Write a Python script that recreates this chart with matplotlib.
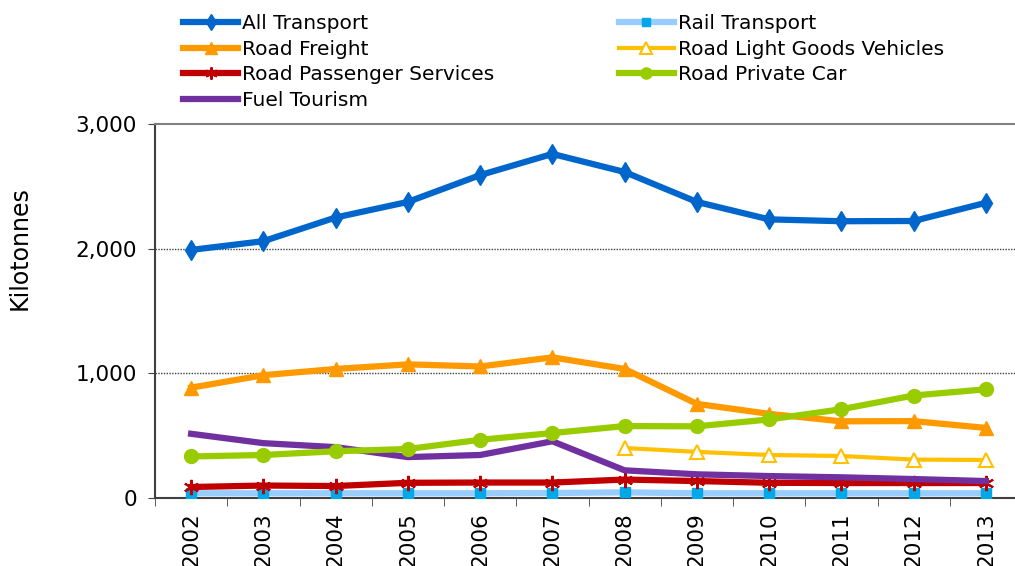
import matplotlib
matplotlib.use("Agg")
import matplotlib.pyplot as plt
from matplotlib.ticker import FuncFormatter, FixedLocator

years = ["2002", "2003", "2004", "2005", "2006", "2007", "2008", "2009", "2010", "2011", "2012", "2013"]
all_transport = [1990, 2060, 2250, 2375, 2590, 2760, 2615, 2375, 2235, 2220, 2222, 2368]
rail_transport = [38, 38, 38, 38, 38, 40, 45, 38, 38, 38, 38, 38]
road_freight = [885, 985, 1035, 1072, 1055, 1128, 1035, 755, 675, 615, 617, 562]
road_lgv = [None, None, None, None, None, None, 401, 370, 345, 337, 308, 305]
road_passenger = [88, 100, 96, 122, 124, 124, 148, 136, 122, 120, 120, 120]
road_private_car = [333, 345, 375, 393, 467, 521, 577, 575, 630, 712, 822, 872]
fuel_tourism = [515, 440, 408, 328, 345, 455, 222, 190, 176, 166, 152, 136]

plt.rcParams['font.family'] = ['DejaVu Sans']
fig = plt.figure(figsize=(10.15, 5.66), dpi=100)
ax = fig.add_axes([155/1015, 1 - 498/566, 867/1015, 374/566])

x = list(range(len(years)))
lw = 4.5
h_all, = ax.plot(x, all_transport, color="#0066cc", lw=lw, marker="d", ms=10, label="All Transport", zorder=5)
h_fr, = ax.plot(x, road_freight, color="#ff9900", lw=lw, marker="^", ms=10, label="Road Freight", zorder=4)
h_ps, = ax.plot(x, road_passenger, color="#c00000", lw=lw, marker=(6, 2, 0), ms=11, mew=1.5,
                mec="#c00000", label="Road Passenger Services", zorder=4)
h_ft, = ax.plot(x, fuel_tourism, color="#7030a0", lw=lw, label="Fuel Tourism", zorder=4)
xl = [i for i, v in zip(x, road_lgv) if v is not None]
yl = [v for v in road_lgv if v is not None]
h_rail, = ax.plot(x, rail_transport, color="#99ccff", lw=lw, marker="s", ms=7, mfc="#00a8e8",
                  mec="#00a8e8", label="Rail Transport", zorder=3)
h_lgv, = ax.plot(xl, yl, color="#ffc000", lw=3, marker="^", ms=10, mfc="white", mec="#ffc000",
                 mew=1.5, label="Road Light Goods Vehicles", zorder=4)
h_car, = ax.plot(x, road_private_car, color="#99cc00", lw=lw, marker="o", ms=10, label="Road Private Car", zorder=4)

ax.set_xlim(-0.5, len(years) - 0.5)
ax.set_ylim(0, 3000)
ax.set_yticks([0, 1000, 2000, 3000])
ax.yaxis.set_major_formatter(FuncFormatter(lambda v, p: f"{int(v):,}"))
ax.set_xticks(x)
ax.set_xticklabels(years, rotation=90, fontsize=15.5)
ax.tick_params(axis="x", which="major", length=0, pad=10)
ax.xaxis.set_minor_locator(FixedLocator([i - 0.5 for i in range(len(years) + 1)]))
ax.tick_params(axis="x", which="minor", length=6, color="#404040", direction="out")
ax.tick_params(axis="y", labelsize=15.5, length=5, color="#404040", direction="out", pad=8)
for v in [1000, 2000]:
    ax.axhline(v, color="#404040", lw=1, ls=(0, (1, 1)), zorder=1)
ax.spines["top"].set_color("#808080")
ax.spines["top"].set_linewidth(1.5)
ax.spines["right"].set_visible(False)
ax.spines["left"].set_color("#404040")
ax.spines["left"].set_linewidth(1.5)
ax.spines["bottom"].set_color("#404040")
ax.spines["bottom"].set_linewidth(1.5)
ax.set_ylabel("Kilotonnes", fontsize=17)
ax.yaxis.set_label_coords((32 - 155) / 867, (498 - 248) / 374)

handles = [h_all, h_fr, h_ps, h_ft, h_rail, h_lgv, h_car]
fig.legend(handles=handles, labels=[h.get_label() for h in handles], ncol=2,
           loc="upper left", bbox_to_anchor=(183/1015, 1 - 14/566), frameon=False,
           fontsize=14.5, handlelength=2.75, handletextpad=0.2, columnspacing=6.15,
           labelspacing=0.33, borderaxespad=0, borderpad=0, markerscale=0.8)

fig.savefig("out.png", dpi=100)
